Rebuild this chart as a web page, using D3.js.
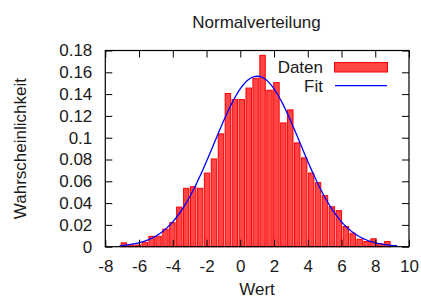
<!DOCTYPE html>
<html>
<head>
	<meta charset="utf-8">
	<title>Normalverteilung</title>
	<script type="text/javascript" src="https://cdn.jsdelivr.net/npm/d3@7"></script>
	<style>
		body {
			margin: 0;
			background: #ffffff;
		}
		text {
			font-family: "Liberation Sans", Arial, Helvetica, sans-serif;
			fill: #1a1a1a;
		}
	</style>
</head>
<body>

	<div id="chart"></div>

	<script>

		// data

		// histogram: left edge of first bin, bin width, and the height of each bin
		const binStart = -7.09;
		const binWidth = 0.411;
		const binHeights = [
			0.004, 0.0022, 0.002, 0.0045, 0.010, 0.010, 0.0165, 0.0225, 0.0368, 0.054,
			0.0555, 0.054, 0.068, 0.081, 0.104, 0.141, 0.1355, 0.1355, 0.146, 0.155,
			0.176, 0.144, 0.151, 0.114, 0.126, 0.0957, 0.082, 0.068, 0.0593, 0.0473,
			0.0371, 0.0335, 0.019, 0.0128, 0.0073, 0.0052, 0.0077, 0.003, 0.0052
		];

		// fitted normal distribution
		const fitMean = 1.0;
		const fitSigma = 2.55;
		const fitRange = [-7.15, 9.3];

		const xTicks = [-8, -6, -4, -2, 0, 2, 4, 6, 8, 10];
		const yTicks = [0, 0.02, 0.04, 0.06, 0.08, 0.1, 0.12, 0.14, 0.16, 0.18];
		const seriesNames = ["Daten", "Fit"];

		// layout

		const width = 421;
		const height = 299;
		const plotLeft = 105.3;
		const plotRight = 409;
		const plotTop = 50.5;
		const plotBottom = 246.7;
		const tickLen = 7;
		const fontSize = "17px";

		const barFill = "#ff4646";
		const barStroke = "#ff0000";
		const lineColor = "#0000ff";

		const svg = d3.select("#chart")
				.append("svg")
				.attr("width", width)
				.attr("height", height)
				.attr("viewBox", [0, 0, width, height]);

		const x = d3.scaleLinear()
				.domain([xTicks[0], xTicks[xTicks.length - 1]])
				.range([plotLeft, plotRight]);

		const y = d3.scaleLinear()
				.domain([yTicks[0], yTicks[yTicks.length - 1]])
				.range([plotBottom, plotTop]);

		// bars
		const bins = binHeights.map((h, i) => ({x0: binStart + i * binWidth, x1: binStart + (i + 1) * binWidth, h: h}));

		svg.append("g")
				.selectAll("rect")
				.data(bins)
				.join("rect")
				.attr("x", d => x(d.x0) + 0.5)
				.attr("y", d => y(d.h) + 0.5)
				.attr("width", d => x(d.x1) - x(d.x0) - 1.5)
				.attr("height", d => Math.max(0, y(0) - y(d.h) - 0.5))
				.attr("fill", barFill)
				.attr("stroke", barStroke)
				.attr("stroke-width", 1);

		// fit curve
		const pdf = v => Math.exp(-0.5 * Math.pow((v - fitMean) / fitSigma, 2)) / (fitSigma * Math.sqrt(2 * Math.PI));
		const fitPoints = d3.range(0, 201).map(i => {
			const v = fitRange[0] + (fitRange[1] - fitRange[0]) * i / 200;
			return [v, pdf(v)];
		});

		svg.append("path")
				.datum(fitPoints)
				.attr("fill", "none")
				.attr("stroke", lineColor)
				.attr("stroke-width", 1.3)
				.attr("d", d3.line().x(d => x(d[0])).y(d => y(d[1])));

		// axes with inward ticks on all four sides
		const fmt = d => String(+d.toFixed(2));

		const axisStyle = g => {
			g.select(".domain").remove();
			g.selectAll(".tick line").attr("stroke", "#000").attr("stroke-width", 1);
			g.selectAll(".tick text")
					.attr("fill", "#1a1a1a")
					.style("font-size", fontSize)
					.style("font-family", "'Liberation Sans', Arial, sans-serif");
		};

		svg.append("g")
				.attr("transform", `translate(0,${plotBottom})`)
				.call(d3.axisBottom(x).tickValues(xTicks).tickFormat(fmt).tickSize(-tickLen).tickPadding(13))
				.call(axisStyle);

		svg.append("g")
				.attr("transform", `translate(0,${plotTop})`)
				.call(d3.axisTop(x).tickValues(xTicks).tickFormat("").tickSize(-tickLen))
				.call(axisStyle);

		svg.append("g")
				.attr("transform", `translate(${plotLeft},0)`)
				.call(d3.axisLeft(y).tickValues(yTicks).tickFormat(fmt).tickSize(-tickLen).tickPadding(13))
				.call(axisStyle);

		svg.append("g")
				.attr("transform", `translate(${plotRight},0)`)
				.call(d3.axisRight(y).tickValues(yTicks).tickFormat("").tickSize(-tickLen))
				.call(axisStyle);

		svg.append("rect")
				.attr("x", plotLeft)
				.attr("y", plotTop)
				.attr("width", plotRight - plotLeft)
				.attr("height", plotBottom - plotTop)
				.attr("fill", "none")
				.attr("stroke", "#000")
				.attr("stroke-width", 1.2);

		// legend
		const legend = svg.append("g");
		legend.append("text")
				.attr("x", 323)
				.attr("y", 73)
				.attr("text-anchor", "end")
				.style("font-size", fontSize)
				.text(seriesNames[0]);
		legend.append("rect")
				.attr("x", 334.5)
				.attr("y", 62.5)
				.attr("width", 53)
				.attr("height", 9.5)
				.attr("fill", barFill)
				.attr("stroke", barStroke)
				.attr("stroke-width", 1);
		legend.append("text")
				.attr("x", 323)
				.attr("y", 91.5)
				.attr("text-anchor", "end")
				.style("font-size", fontSize)
				.text(seriesNames[1]);
		legend.append("line")
				.attr("x1", 335)
				.attr("x2", 387)
				.attr("y1", 85.7)
				.attr("y2", 85.7)
				.attr("stroke", lineColor)
				.attr("stroke-width", 1.3);

		// titles
		svg.append("text")
				.attr("x", 256.5)
				.attr("y", 28)
				.attr("text-anchor", "middle")
				.style("font-size", fontSize)
				.text("Normalverteilung");

		svg.append("text")
				.attr("x", 257)
				.attr("y", 295)
				.attr("text-anchor", "middle")
				.style("font-size", fontSize)
				.text("Wert");

		svg.append("text")
				.attr("transform", `translate(25.5,${(plotTop + plotBottom) / 2}) rotate(-90)`)
				.attr("text-anchor", "middle")
				.style("font-size", fontSize)
				.text("Wahrscheinlichkeit");

	</script>

</body>
</html>
